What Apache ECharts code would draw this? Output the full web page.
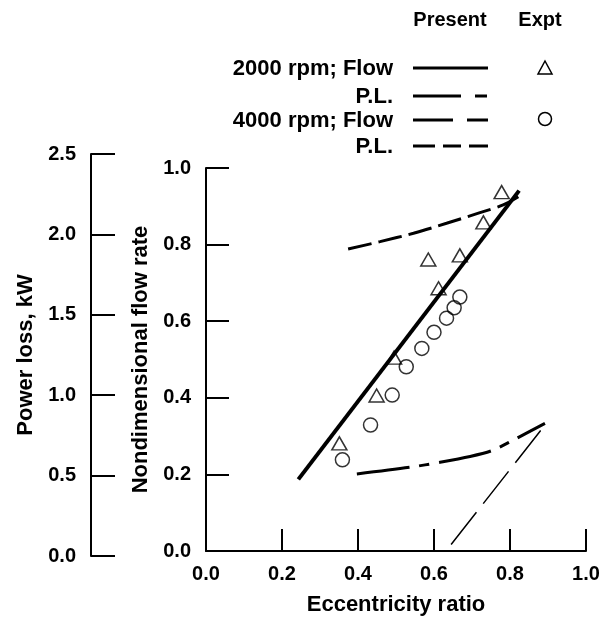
<!DOCTYPE html>
<html>
<head>
<meta charset="utf-8">
<script src="https://cdn.jsdelivr.net/npm/echarts@6/dist/echarts.min.js"></script>
<style>
  html, body { margin: 0; padding: 0; background: #fff; }
  #chart { width: 614px; height: 621px; }
</style>
</head>
<body>
<div id="chart"></div>
<script>
// eccentricity ratio vs nondimensional flow rate / power loss

const xTicks = [0, 0.2, 0.4, 0.6, 0.8, 1.0];

// present theory, 2000 rpm flow
const flow2000Ecc = [0.243, 0.824];
const flow2000 = [0.187, 0.941];
// present theory, 4000 rpm flow
const flow4000Ecc = [0.645, 0.888];
const flow4000 = [0.017, 0.324];
// present theory, power loss (kW)
const pl2000Ecc = [0.397, 0.537, 0.616, 0.695, 0.752, 0.804, 0.892];
const pl2000 = [0.510, 0.552, 0.583, 0.619, 0.655, 0.715, 0.825];
const pl4000Ecc = [0.374, 0.458, 0.546, 0.633, 0.721, 0.782, 0.822];
const pl4000 = [1.909, 1.955, 2.007, 2.069, 2.135, 2.183, 2.234];
// experiment
const expt2000Ecc = [0.351, 0.449, 0.495, 0.585, 0.612, 0.668, 0.730, 0.778];
const expt2000Flow = [0.281, 0.406, 0.505, 0.761, 0.686, 0.772, 0.858, 0.937];
const expt4000Ecc = [0.359, 0.433, 0.490, 0.527, 0.568, 0.600, 0.633, 0.653, 0.668];
const expt4000Flow = [0.238, 0.329, 0.407, 0.481, 0.529, 0.571, 0.608, 0.635, 0.663];

const legendRows = ['2000 rpm; Flow', 'P.L.', '4000 rpm; Flow', 'P.L.'];

const zip = (a, b) => a.map((v, i) => [v, b[i]]);
const font = 'Liberation Sans';
const black = '#000';
const fmt = v => v.toFixed(1);

const axisCommon = {
    axisLine: { onZero: false, lineStyle: { color: black, width: 2 } },
    axisTick: { inside: true, length: 23, lineStyle: { color: black, width: 2 } },
    splitLine: { show: false },
    axisLabel: { color: black, fontFamily: font, fontWeight: 'bold', fontSize: 20, margin: 15, formatter: fmt },
    nameTextStyle: { color: black, fontFamily: font, fontWeight: 'bold', fontSize: 22 },
};

const hollow = { color: 'rgba(0,0,0,0)', borderColor: black, borderWidth: 1.5 };
const legendText = { fontFamily: font, fontWeight: 'bold', fontSize: 20, fill: black };
const rowY = [68, 96, 120, 146];
const lineDashes = [null, [48, 14, 12, 10], [40, 14, 21, 10], [22, 8, 18, 8]];

const graphics = [
    { type: 'text', x: 450, y: 20, style: Object.assign({ text: 'Present', align: 'center', verticalAlign: 'middle' }, legendText) },
    { type: 'text', x: 540, y: 20, style: Object.assign({ text: 'Expt', align: 'center', verticalAlign: 'middle' }, legendText) },
];
legendRows.forEach((name, i) => {
    graphics.push({ type: 'text', x: 393, y: rowY[i] + 1, style: Object.assign({ text: name, align: 'right', verticalAlign: 'middle' }, legendText, { fontSize: 22 }) });
    graphics.push({
        type: 'line', shape: { x1: 413, y1: rowY[i], x2: 488, y2: rowY[i] },
        style: { stroke: black, lineWidth: 3, lineDash: lineDashes[i] || null }
    });
});
graphics.push({ type: 'polygon', shape: { points: [[545, 61], [552, 74], [538, 74]] }, style: { fill: 'none', stroke: black, lineWidth: 1.5 } });
graphics.push({ type: 'circle', shape: { cx: 545, cy: 119, r: 6.5 }, style: { fill: 'none', stroke: black, lineWidth: 1.5 } });

const chart = echarts.init(document.getElementById('chart'), null, { renderer: 'canvas' });
chart.setOption({
    backgroundColor: '#fff',
    animation: false,
    grid: [
        { left: 206, right: 28, top: 168, bottom: 67 },
        { left: 206, right: 28, top: 154, bottom: 65 },
    ],
    xAxis: [
        Object.assign({}, axisCommon, {
            type: 'value', gridIndex: 0, min: 0, max: 1, interval: 0.2,
            name: 'Eccentricity ratio', nameLocation: 'middle', nameGap: 43,
            axisTick: { inside: true, length: 22, lineStyle: { color: black, width: 2 } },
            axisLabel: Object.assign({}, axisCommon.axisLabel, { margin: 13 }),
        }),
        { type: 'value', gridIndex: 1, min: 0, max: 1, show: false },
    ],
    yAxis: [
        Object.assign({}, axisCommon, {
            type: 'value', gridIndex: 0, min: 0, max: 1, interval: 0.2,
            name: 'Nondimensional flow rate', nameLocation: 'middle', nameGap: 52,
        }),
        Object.assign({}, axisCommon, {
            type: 'value', gridIndex: 1, min: 0, max: 2.5, interval: 0.5, offset: 115,
            axisTick: { inside: true, length: 24, lineStyle: { color: black, width: 2 } },
            name: 'Power loss, kW', nameLocation: 'middle', nameGap: 54,
        }),
    ],
    graphic: graphics,
    series: [
        {
            name: '2000 rpm; Flow', type: 'line', xAxisIndex: 0, yAxisIndex: 0,
            data: zip(flow2000Ecc, flow2000), showSymbol: false,
            lineStyle: { color: black, width: 4 },
        },
        {
            name: '4000 rpm; Flow', type: 'line', xAxisIndex: 0, yAxisIndex: 0,
            data: zip(flow4000Ecc, flow4000), showSymbol: false,
            lineStyle: { color: black, width: 1.5, type: [41, 11] },
        },
        {
            name: '2000 rpm; P.L.', type: 'line', xAxisIndex: 1, yAxisIndex: 1,
            data: zip(pl2000Ecc, pl2000), showSymbol: false, smooth: 0.3,
            lineStyle: { color: black, width: 3, type: [53, 10, 10, 10] },
        },
        {
            name: '4000 rpm; P.L.', type: 'line', xAxisIndex: 1, yAxisIndex: 1,
            data: zip(pl4000Ecc, pl4000), showSymbol: false, smooth: 0.3,
            lineStyle: { color: black, width: 3, type: [24, 7] },
        },
        {
            name: '2000 rpm; Expt', type: 'scatter', xAxisIndex: 0, yAxisIndex: 0,
            data: zip(expt2000Ecc, expt2000Flow), symbol: 'triangle', symbolSize: [15, 13],
            itemStyle: hollow, z: 5,
        },
        {
            name: '4000 rpm; Expt', type: 'scatter', xAxisIndex: 0, yAxisIndex: 0,
            data: zip(expt4000Ecc, expt4000Flow), symbol: 'circle', symbolSize: 14,
            itemStyle: hollow, z: 5,
        },
    ]
});
</script>
</body>
</html>
